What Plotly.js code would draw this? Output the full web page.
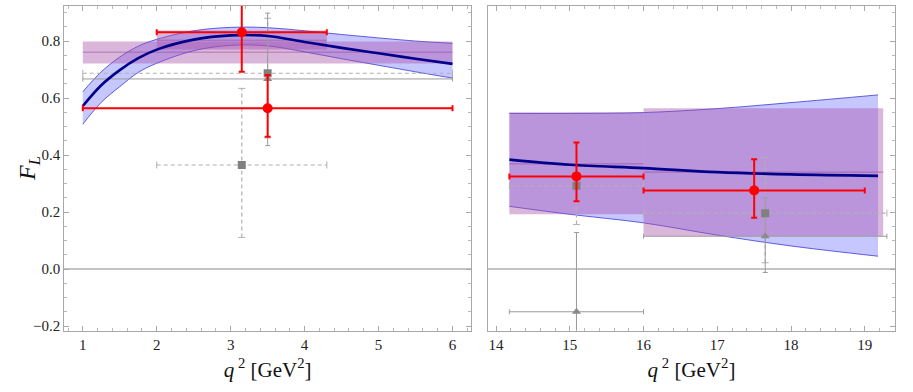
<!DOCTYPE html>
<html>
<head>
<meta charset="utf-8">
<script src="https://cdn.plot.ly/plotly-3.0.1.min.js"></script>
<style>
  body { margin: 0; background: #fff; }
  #fl { width: 913px; height: 392px; }
</style>
</head>
<body>
<div id="fl"></div>
<script>
// SM prediction band, low q2 bin
var qLeft  = [1, 1.25, 1.5, 1.75, 2, 2.5, 3, 3.5, 4, 4.5, 5, 5.5, 6];
var smLeft = [0.572, 0.645, 0.698, 0.740, 0.770, 0.805, 0.820, 0.818, 0.797, 0.776, 0.757, 0.738, 0.720];
var upLeft = [0.622, 0.692, 0.744, 0.782, 0.806, 0.836, 0.848, 0.847, 0.836, 0.823, 0.811, 0.800, 0.792];
var loLeft = [0.508, 0.585, 0.640, 0.690, 0.722, 0.766, 0.785, 0.783, 0.762, 0.738, 0.715, 0.692, 0.670];

// SM prediction band, high q2 bin
var qRight  = [14.18, 15, 16, 17, 18, 19.18];
var smRight = [0.384, 0.366, 0.354, 0.340, 0.332, 0.327];
var upRight = [0.546, 0.546, 0.549, 0.563, 0.584, 0.611];
var loRight = [0.220, 0.192, 0.162, 0.119, 0.081, 0.045];

// binned predictions (boxes)
var boxLo  = [1, 2, 14.18, 16];
var boxHi  = [6, 4.3, 16, 19.25];
var boxVal = [0.761, 0.803, 0.369, 0.340];
var boxMin = [0.721, 0.770, 0.192, 0.116];
var boxMax = [0.798, 0.837, 0.550, 0.564];
var boxAx  = ['x', 'x', 'x2', 'x2'];

// red measurements
var redQ    = [3.15, 3.5, 15.09, 17.5];
var redQlo  = [2, 1, 14.18, 16];
var redQhi  = [4.3, 6, 16, 19.0];
var redF    = [0.831, 0.564, 0.325, 0.276];
var redFlo  = [0.692, 0.464, 0.238, 0.180];
var redFhi  = [0.970, 0.681, 0.444, 0.385];
var redAx   = ['x', 'x', 'x2', 'x2'];

// gray triangles (solid errors)
var triQ   = [3.5, 15.09, 17.65];
var triQlo = [1, 14.18, 16];
var triQhi = [6, 16, 19.3];
var triF   = [0.667, -0.150, 0.115];
var triFlo = [0.433, -0.430, -0.012];
var triFhi = [0.898, 0.128, 0.250];
var triAx  = ['x', 'x2', 'x2'];

// gray squares (dashed errors)
var sqQ   = [3.5, 3.15, 15.09, 17.65];
var sqQlo = [1, 2, 14.18, 16];
var sqQhi = [6, 4.3, 16, 19.3];
var sqF   = [0.687, 0.365, 0.292, 0.196];
var sqFlo = [0.460, 0.111, 0.156, 0.022];
var sqFhi = [0.880, 0.634, 0.425, 0.392];
var sqAx  = ['x', 'x', 'x2', 'x2'];

var serif = 'Liberation Serif';
var data = [];

function yOf(ax) { return ax === 'x' ? 'y' : 'y2'; }

// bands
function band(q, lo, hi, ax) {
  data.push({x: q, y: lo, xaxis: ax, yaxis: yOf(ax), mode: 'lines',
    line: {color: '#3a3ad0', width: 0.8, shape: 'spline'}, hoverinfo: 'skip', showlegend: false});
  data.push({x: q, y: hi, xaxis: ax, yaxis: yOf(ax), mode: 'lines', fill: 'tonexty',
    fillcolor: 'rgba(100,100,255,0.36)',
    line: {color: '#3a3ad0', width: 0.8, shape: 'spline'}, hoverinfo: 'skip', showlegend: false});
}
band(qLeft, loLeft, upLeft, 'x');
band(qRight, loRight, upRight, 'x2');

// boxes
for (var i = 0; i < boxLo.length; i++) {
  data.push({
    x: [boxLo[i], boxHi[i], boxHi[i], boxLo[i], boxLo[i]],
    y: [boxMin[i], boxMin[i], boxMax[i], boxMax[i], boxMin[i]],
    xaxis: boxAx[i], yaxis: yOf(boxAx[i]), mode: 'lines', fill: 'toself',
    fillcolor: 'rgba(170,80,170,0.42)', line: {width: 0}, hoverinfo: 'skip', showlegend: false
  });
  data.push({
    x: [boxLo[i], boxHi[i]], y: [boxVal[i], boxVal[i]],
    xaxis: boxAx[i], yaxis: yOf(boxAx[i]), mode: 'lines',
    line: {color: 'rgba(150,70,150,0.6)', width: 1}, hoverinfo: 'skip', showlegend: false
  });
}

// dashed error bars for squares
for (var i = 0; i < sqQ.length; i++) {
  var ax = sqAx[i];
  data.push({
    x: [sqQlo[i], sqQhi[i], null, sqQ[i], sqQ[i]],
    y: [sqF[i], sqF[i], null, sqFlo[i], sqFhi[i]],
    xaxis: ax, yaxis: yOf(ax), mode: 'lines',
    line: {color: '#b0b0b0', width: 1.2, dash: '4px,3px'}, hoverinfo: 'skip', showlegend: false
  });
  data.push({
    x: [sqQlo[i], sqQhi[i]], y: [sqF[i], sqF[i]], xaxis: ax, yaxis: yOf(ax), mode: 'markers',
    marker: {symbol: 'line-ns-open', size: 5, color: '#b0b0b0', line: {width: 1, color: '#b0b0b0'}},
    hoverinfo: 'skip', showlegend: false
  });
  data.push({
    x: [sqQ[i], sqQ[i]], y: [sqFlo[i], sqFhi[i]], xaxis: ax, yaxis: yOf(ax), mode: 'markers',
    marker: {symbol: 'line-ew-open', size: 5, color: '#b0b0b0', line: {width: 1, color: '#b0b0b0'}},
    hoverinfo: 'skip', showlegend: false
  });
}

// gray triangles with solid errors, then square markers
['x', 'x2'].forEach(function (ax) {
  var xs = [], ys = [], xm = [], xp = [], ym = [], yp = [];
  for (var i = 0; i < triQ.length; i++) {
    if (triAx[i] !== ax) continue;
    xs.push(triQ[i]); ys.push(triF[i]);
    xm.push(triQ[i] - triQlo[i]); xp.push(triQhi[i] - triQ[i]);
    ym.push(triF[i] - triFlo[i]); yp.push(triFhi[i] - triF[i]);
  }
  data.push({
    x: xs, y: ys, xaxis: ax, yaxis: yOf(ax), mode: 'markers',
    marker: {symbol: 'triangle-up', size: 8, color: '#8a8a8a'},
    error_x: {type: 'data', symmetric: false, array: xp, arrayminus: xm, color: '#9a9a9a', thickness: 1, width: 2.5},
    error_y: {type: 'data', symmetric: false, array: yp, arrayminus: ym, color: '#9a9a9a', thickness: 1, width: 2.5},
    hoverinfo: 'skip', showlegend: false
  });
  var sx = [], sy = [];
  for (var j = 0; j < sqQ.length; j++) {
    if (sqAx[j] !== ax) continue;
    sx.push(sqQ[j]); sy.push(sqF[j]);
  }
  data.push({
    x: sx, y: sy, xaxis: ax, yaxis: yOf(ax), mode: 'markers',
    marker: {symbol: 'square', size: 8, color: '#808080'}, hoverinfo: 'skip', showlegend: false
  });
});

// SM central curves
data.push({x: qLeft, y: smLeft, xaxis: 'x', yaxis: 'y', mode: 'lines',
  line: {color: '#00008b', width: 2.6, shape: 'spline'}, hoverinfo: 'skip', showlegend: false});
data.push({x: qRight, y: smRight, xaxis: 'x2', yaxis: 'y2', mode: 'lines',
  line: {color: '#00008b', width: 2.6, shape: 'spline'}, hoverinfo: 'skip', showlegend: false});

// red measurements
['x', 'x2'].forEach(function (ax) {
  var xs = [], ys = [], xm = [], xp = [], ym = [], yp = [];
  for (var i = 0; i < redQ.length; i++) {
    if (redAx[i] !== ax) continue;
    xs.push(redQ[i]); ys.push(redF[i]);
    xm.push(redQ[i] - redQlo[i]); xp.push(redQhi[i] - redQ[i]);
    ym.push(redF[i] - redFlo[i]); yp.push(redFhi[i] - redF[i]);
  }
  data.push({
    x: xs, y: ys, xaxis: ax, yaxis: yOf(ax), mode: 'markers',
    marker: {symbol: 'circle', size: 10, color: '#ff0000'},
    error_x: {type: 'data', symmetric: false, array: xp, arrayminus: xm, color: '#ff0000', thickness: 2, width: 3},
    error_y: {type: 'data', symmetric: false, array: yp, arrayminus: ym, color: '#ff0000', thickness: 2, width: 3},
    hoverinfo: 'skip', showlegend: false
  });
});

var yRange = [-0.2164, 0.923];
var common = {
  showgrid: false, showline: true, linecolor: '#a8a8a8', linewidth: 1,
  ticks: 'inside', tickcolor: '#a8a8a8', ticklen: 5, tickwidth: 1,
  tickfont: {family: serif, size: 15, color: '#222'}
};
var xTitle = '<i>q</i><sup> 2</sup> [GeV<sup>2</sup>]';

var layout = {
  width: 913, height: 392,
  margin: {l: 0, r: 0, t: 0, b: 0},
  paper_bgcolor: '#fff', plot_bgcolor: '#fff',
  font: {family: serif},
  xaxis: Object.assign({}, common, {
    domain: [64.3 / 913, 471 / 913], range: [0.75, 6.25], anchor: 'y',
    tick0: 1, dtick: 1, mirror: 'ticks', zeroline: false,
    minor: {ticks: 'inside', dtick: 0.2, ticklen: 3, tickcolor: '#b8b8b8', showgrid: false},
    title: {text: xTitle, font: {family: serif, size: 21, color: '#111'}, standoff: 10}
  }),
  yaxis: Object.assign({}, common, {
    domain: [1 - 330.7 / 392, 1 - 6 / 392], range: yRange, anchor: 'x',
    tick0: 0, dtick: 0.2, tickformat: '.1f', mirror: 'ticks',
    zeroline: true, zerolinecolor: '#c4c4c4', zerolinewidth: 1.5,
    minor: {ticks: 'inside', dtick: 0.05, ticklen: 3, tickcolor: '#b8b8b8', showgrid: false}
  }),
  xaxis2: Object.assign({}, common, {
    domain: [488 / 913, 895 / 913], range: [13.89, 19.41], anchor: 'y2',
    tick0: 14, dtick: 1, mirror: 'ticks', zeroline: false,
    minor: {ticks: 'inside', dtick: 0.2, ticklen: 3, tickcolor: '#b8b8b8', showgrid: false},
    title: {text: xTitle, font: {family: serif, size: 21, color: '#111'}, standoff: 10}
  }),
  yaxis2: Object.assign({}, common, {
    domain: [1 - 330.7 / 392, 1 - 6 / 392], range: yRange, anchor: 'x2',
    side: 'right', showticklabels: false, mirror: true,
    tick0: 0, dtick: 0.2,
    zeroline: true, zerolinecolor: '#c4c4c4', zerolinewidth: 1.5,
    minor: {ticks: 'inside', dtick: 0.05, ticklen: 3, tickcolor: '#b8b8b8', showgrid: false}
  }),
  annotations: [{
    text: '<i>F</i><sub><i>L</i></sub>', xref: 'paper', yref: 'paper',
    x: 12 / 913, y: 1 - 169 / 392, textangle: -90, showarrow: false,
    font: {family: serif, size: 24, color: '#111'}
  }]
};

Plotly.newPlot('fl', data, layout, {displayModeBar: false, staticPlot: true});
</script>
</body>
</html>
